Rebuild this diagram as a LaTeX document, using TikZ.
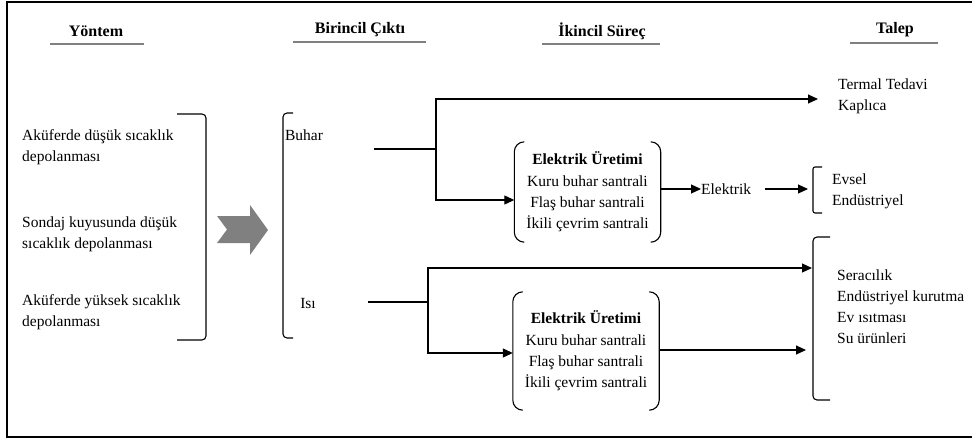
\documentclass[tikz,border=0pt]{standalone}
\usepackage{fontspec}
\setmainfont{Liberation Serif}
\usetikzlibrary{arrows.meta}
\begin{document}
\begin{tikzpicture}[x=1pt,y=-1pt,
  txt/.style={font=\fontsize{15.5}{21}\selectfont, inner sep=0pt, align=left},
  hdr/.style={font=\fontsize{16}{19}\selectfont\bfseries, inner sep=0pt},
  uline/.style={draw=gray, line width=1.5pt},
  conn/.style={line width=1.1pt},
  arr/.style={conn, -{Triangle[length=10pt,width=9pt]}},
  brk/.style={line width=1.1pt, rounded corners=4pt},
  pbox/.style={font=\fontsize{15.5}{21.3}\selectfont, inner sep=0pt, align=center, minimum width=146pt},
  paren/.style={line width=1.1pt, rounded corners=10pt}]
\useasboundingbox (0,0) rectangle (972,439);
% frame
\draw[line width=2pt] (990,2) -- (7,2) -- (7,437) -- (990,437);

% headers
\node[hdr] (h1) at (96,31) {Yöntem};
\node[hdr] (h2) at (360,30) {Birincil Çıktı};
\node[hdr] (h3) at (602,31) {İkincil Süreç};
\node[hdr] (h4) at (895,30) {Talep};
\draw[uline] (50,44) -- (144,44);
\draw[uline] (293,42) -- (426,42);
\draw[uline] (542,44) -- (660,44);
\draw[uline] (850,43) -- (938,43);

% left methods
\node[txt, anchor=west] (m1) at (22,147) {Aküferde düşük sıcaklık\\depolanması};
\node[txt, anchor=west] (m2) at (22,234) {Sondaj kuyusunda düşük\\sıcaklık depolanması};
\node[txt, anchor=west] (m3) at (22,312) {Aküferde yüksek sıcaklık\\depolanması};
\draw[brk] (177,114) -- (206,114) -- (206,340) -- (177,340);

% gray arrow
\fill[gray] (217,216) -- (250,216) -- (250,205) -- (268,230) -- (250,255) -- (250,243) -- (217,243) -- (227,229.5) -- cycle;

% primary output
\draw[brk] (293,113) -- (283,113) -- (283,338) -- (293,338);
\node[txt] (buhar) at (304,135) {Buhar};
\node[txt] (isi) at (308,303) {Isı};

% upper branch
\coordinate (b0) at (374,149);
\coordinate (bj) at (436,149);
\coordinate (tt) at (818,99);
\draw[conn] (b0) -- (bj);
\draw[arr] (bj) |- (tt);
\node[pbox, minimum height=100pt] (e1) at (587.5,192) {\textbf{Elektrik Üretimi}\\Kuru buhar santrali\\Flaş buhar santrali\\İkili çevrim santrali};
\draw[paren] ([xshift=10pt]e1.north west) -- (e1.north west) -- (e1.south west) -- ([xshift=10pt]e1.south west);
\draw[paren] ([xshift=-10pt]e1.north east) -- (e1.north east) -- (e1.south east) -- ([xshift=-10pt]e1.south east);
\coordinate (e1in) at (e1.west |- 0,200);
\draw[arr] (bj) |- (e1in);
\node[txt, anchor=west] (el) at (701,189) {Elektrik};
\draw[arr] (e1.east |- el.west) -- (el.west);
\coordinate (el2) at (765,189);
\coordinate (ev0) at (808,189);
\draw[arr] (el2) -- (ev0);
\draw[brk, rounded corners=2pt] (822,167) -- (813,167) -- (813,213) -- (822,213);
\node[txt, anchor=west] (evsel) at (832,191) {Evsel\\Endüstriyel};
\node[txt, anchor=west] (termal) at (838,96) {Termal Tedavi\\Kaplıca};

% lower branch
\coordinate (i0) at (368,302);
\coordinate (ij) at (428,302);
\coordinate (st) at (812,268);
\draw[conn] (i0) -- (ij);
\draw[arr] (ij) |- (st);
\node[pbox, minimum height=118pt] (e2) at (586,351) {\textbf{Elektrik Üretimi}\\Kuru buhar santrali\\Flaş buhar santrali\\İkili çevrim santrali};
\draw[paren] ([xshift=10pt]e2.north west) -- (e2.north west) -- (e2.south west) -- ([xshift=10pt]e2.south west);
\draw[paren] ([xshift=-10pt]e2.north east) -- (e2.north east) -- (e2.south east) -- ([xshift=-10pt]e2.south east);
\coordinate (e2in) at (e2.west |- 0,353);
\draw[arr] (ij) |- (e2in);
\coordinate (e2out) at (806,350);
\draw[arr] (e2.east |- e2out) -- (e2out);
\draw[brk] (830,237) -- (813,237) -- (813,400) -- (830,400);
\node[txt, anchor=west] (sera) at (837,307) {Seracılık\\Endüstriyel kurutma\\Ev ısıtması\\Su ürünleri};
\end{tikzpicture}
\end{document}
